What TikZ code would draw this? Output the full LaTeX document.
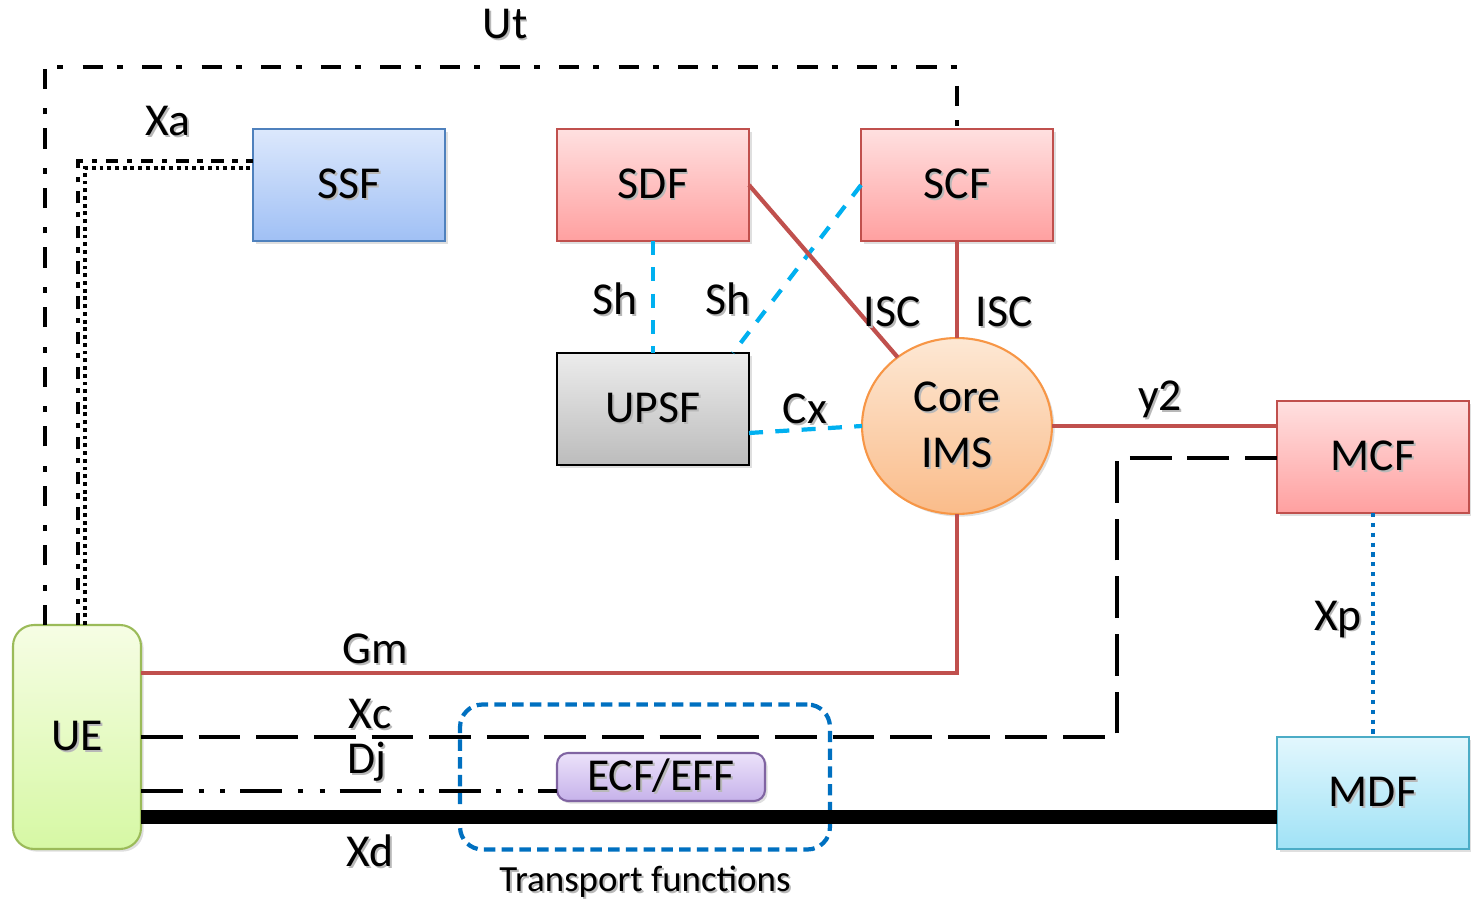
\documentclass[tikz,border=0pt]{standalone}
\usepackage{fontspec}
\setmainfont{Carlito}
\usetikzlibrary{shapes.geometric,shadows}
\definecolor{redln}{RGB}{192,80,77}
\definecolor{cyanln}{RGB}{0,176,240}
\definecolor{blueln}{RGB}{0,112,192}
\definecolor{ssftop}{RGB}{220,232,252}
\definecolor{ssfbot}{RGB}{160,192,245}
\definecolor{ssfbd}{RGB}{79,129,189}
\definecolor{redtop}{RGB}{255,224,224}
\definecolor{redbot}{RGB}{255,160,160}
\definecolor{graytop}{RGB}{236,236,236}
\definecolor{graybot}{RGB}{188,188,188}
\definecolor{coretop}{RGB}{253,232,212}
\definecolor{corebot}{RGB}{250,188,138}
\definecolor{corebd}{RGB}{247,150,70}
\definecolor{mdftop}{RGB}{226,247,253}
\definecolor{mdfbot}{RGB}{160,226,246}
\definecolor{mdfbd}{RGB}{75,172,198}
\definecolor{uetop}{RGB}{246,253,228}
\definecolor{uebot}{RGB}{214,248,164}
\definecolor{uebd}{RGB}{155,187,89}
\definecolor{ecftop}{RGB}{236,226,250}
\definecolor{ecfbot}{RGB}{198,178,234}
\definecolor{ecfbd}{RGB}{128,100,162}
\newcommand\shtxt[1]{\leavevmode\rlap{\kern1.1pt\raisebox{-1.1pt}{\textcolor{black!28}{#1}}}#1}
\tikzset{
  box/.style={rectangle, minimum width=3.84cm, minimum height=2.24cm, inner sep=0pt, outer sep=0pt,
    line width=1.2pt, font=\fontsize{26}{30}\selectfont,
    drop shadow={opacity=0.25, shadow xshift=1.5pt, shadow yshift=-1.5pt}},
  redbox/.style={box, draw=redln, top color=redtop, bottom color=redbot},
  lbl/.style={font=\fontsize{26}{30}\selectfont, inner sep=0pt},
  redline/.style={draw=redln, line width=2.4pt},
  cyanline/.style={draw=cyanln, line width=2.4pt, dash pattern=on 8pt off 7pt},
  utline/.style={draw=black, line width=2.4pt, dash pattern=on 11.5pt off 8pt on 3.4pt off 11pt},
  xaline/.style={draw=black, line width=2.4pt, dash pattern=on 7pt off 5pt on 3pt off 5pt},
  dotline/.style={draw=black, line width=2.2pt, dash pattern=on 2.2pt off 2.2pt},
  xcline/.style={draw=black, line width=2.4pt, dash pattern=on 23.8pt off 9pt},
  djline/.style={draw=black, line width=2.4pt, dash pattern=on 23.8pt off 9pt on 2.8pt off 9.6pt on 2.8pt off 8.5pt},
  xdline/.style={draw=black, line width=8pt},
  xpline/.style={draw=blueln, line width=2.4pt, dash pattern=on 2.4pt off 3.2pt},
}
\begin{document}
\begin{tikzpicture}[x=0.02cm,y=-0.02cm]
\useasboundingbox (0,0) rectangle (1471,901);
% nodes
\node[box, draw=ssfbd, top color=ssftop, bottom color=ssfbot] (ssf) at (349,185) {\shtxt{SSF}};
\node[redbox] (sdf) at (653,185) {\shtxt{SDF}};
\node[redbox] (scf) at (957,185) {\shtxt{SCF}};
\node[box, draw=black, top color=graytop, bottom color=graybot] (upsf) at (653,409) {\shtxt{UPSF}};
\node[ellipse, minimum width=3.8cm, minimum height=3.52cm, inner sep=0pt, outer sep=0pt,
  draw=corebd, line width=1.2pt, top color=coretop, bottom color=corebot,
  drop shadow={opacity=0.25, shadow xshift=1.5pt, shadow yshift=-1.5pt},
  align=center, font=\fontsize{26}{32}\selectfont] (core) at (957,426) {\shtxt{Core}\\\shtxt{IMS}};
\node[redbox] (mcf) at (1373,457) {\shtxt{MCF}};
\node[box, draw=mdfbd, top color=mdftop, bottom color=mdfbot] (mdf) at (1373,793) {\shtxt{MDF}};
\node[box, minimum width=2.56cm, minimum height=4.48cm, rounded corners=0.42cm,
  draw=uebd, top color=uetop, bottom color=uebot] (ue) at (77,737) {\shtxt{UE}};
\node[box, minimum width=4.16cm, minimum height=0.96cm, rounded corners=0.22cm,
  draw=ecfbd, top color=ecftop, bottom color=ecfbot] (ecf) at (661,777) {\shtxt{ECF/EFF}};
% transport box
\node[rectangle, minimum width=7.4cm, minimum height=2.9cm, rounded corners=0.45cm,
  draw=blueln, line width=2.4pt, dash pattern=on 6.5pt off 3.6pt] (tf) at (645,777) {};
% coordinates
\coordinate (ut) at (45,67);
\coordinate (xa1) at (78,161);
\coordinate (xa2) at (85,168);
\coordinate (gm) at (141,673);
\coordinate (xcb) at (1117,737);
\coordinate (xct) at (1117,458);
\coordinate (dj) at ([yshift=-0.28cm]ecf.west);
\coordinate (xd) at ([yshift=-0.48cm]mdf.west);
% connectors
\draw[utline] (ue.north -| ut) -- (ut) -- (ut -| scf.north) -- (scf.north);
\draw[xaline] (ue.north -| xa1) -- (xa1) -- (xa1 -| ssf.west);
\draw[dotline] (ue.north -| xa2) -- (xa2) -- (xa2 -| ssf.west);
\draw[cyanline] (sdf.south) -- (upsf.north);
\draw[cyanline] (scf.west) -- ([xshift=-0.32cm]upsf.north east);
\draw[redline] (sdf.east) -- (core);
\draw[redline] (scf.south) -- (core.north);
\draw[cyanline] ([yshift=-0.48cm]upsf.east) -- (core.west);
\draw[redline] (core.east) -- (core.east -| mcf.west);
\draw[redline] (core.south) |- (ue.east |- gm);
\draw[xcline] (ue.east |- xcb) -- (xcb) -- (xct) -- (xct -| mcf.west);
\draw[djline] (ue.east |- dj) -- (dj);
\draw[xdline] (ue.east |- xd) -- (xd);
\draw[xpline] (mcf.south) -- (mdf.north);
% labels
\node[lbl] (lut) at (505,25) {\shtxt{Ut}};
\node[lbl] (lxa) at (168,122) {\shtxt{Xa}};
\node[lbl] (lsh1) at (615,300) {\shtxt{Sh}};
\node[lbl] (lsh2) at (728,300) {\shtxt{Sh}};
\node[lbl] (lisc1) at (892,313) {\shtxt{ISC}};
\node[lbl] (lisc2) at (1004,313) {\shtxt{ISC}};
\node[lbl] (lcx) at (805,410) {\shtxt{Cx}};
\node[lbl] (ly2) at (1160,400) {\shtxt{y2}};
\node[lbl] (lgm) at (375,650) {\shtxt{Gm}};
\node[lbl] (lxc) at (370,715) {\shtxt{Xc}};
\node[lbl] (ldj) at (367,763) {\shtxt{Dj}};
\node[lbl] (lxd) at (370,852) {\shtxt{Xd}};
\node[lbl] (lxp) at (1338,620) {\shtxt{Xp}};
\node[inner sep=0pt, font=\fontsize{21}{24}\selectfont] (ltf) at (645,883) {\shtxt{Transport functions}};
\end{tikzpicture}
\end{document}
